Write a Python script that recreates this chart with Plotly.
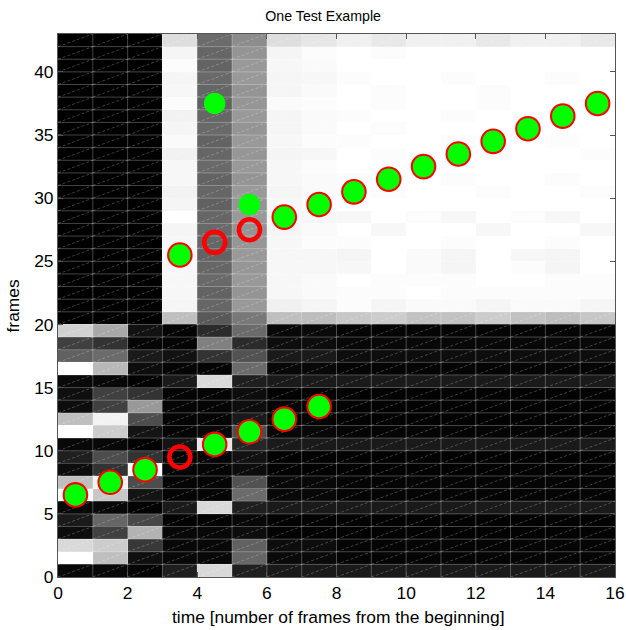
import plotly.graph_objects as go

title = "One Test Example"
x_label = "time [number of frames from the beginning]"
y_label = "frames"
x_ticks = [0, 2, 4, 6, 8, 10, 12, 14, 16]
y_ticks = [0, 5, 10, 15, 20, 25, 30, 35, 40]

# Image intensity in percent, one row per frame, bottom row first; 16 columns.
low_rows = [
    [3, 3, 2, 12, 85, 12, 10, 10, 10, 10, 10, 10, 10, 10, 10, 10],
    [100, 75, 6, 3, 3, 40, 4, 4, 2, 2, 2, 2, 2, 2, 2, 2],
    [85, 80, 22, 3, 3, 38, 5, 5, 2, 2, 2, 2, 2, 2, 2, 2],
    [5, 25, 70, 3, 3, 5, 1, 1, 1, 1, 1, 1, 1, 1, 1, 1],
    [10, 40, 28, 1, 1, 3, 1, 1, 1, 1, 1, 1, 1, 1, 1, 1],
    [3, 3, 1, 10, 85, 12, 10, 10, 10, 10, 10, 10, 10, 10, 10, 10],
    [100, 78, 8, 2, 2, 42, 3, 3, 2, 2, 2, 2, 2, 2, 2, 2],
    [75, 95, 30, 2, 2, 32, 3, 3, 2, 2, 2, 2, 2, 2, 2, 2],
    [5, 20, 100, 2, 2, 5, 1, 1, 1, 1, 1, 1, 1, 1, 1, 1],
    [12, 30, 20, 2, 2, 7, 1, 1, 1, 1, 1, 1, 1, 1, 1, 1],
    [3, 3, 1, 8, 90, 15, 10, 10, 10, 10, 10, 10, 10, 10, 10, 10],
    [100, 80, 8, 2, 3, 30, 3, 3, 2, 2, 2, 2, 2, 2, 2, 2],
    [75, 95, 30, 2, 2, 10, 1, 1, 1, 1, 1, 1, 1, 1, 1, 1],
    [5, 25, 60, 2, 2, 5, 1, 1, 1, 1, 1, 1, 1, 1, 1, 1],
    [6, 25, 20, 2, 2, 5, 1, 1, 1, 1, 1, 1, 1, 1, 1, 1],
    [4, 3, 1, 10, 85, 12, 10, 10, 10, 10, 10, 10, 10, 10, 10, 10],
    [100, 72, 5, 2, 2, 42, 3, 3, 2, 2, 2, 2, 2, 2, 2, 2],
    [38, 42, 10, 7, 20, 32, 10, 10, 5, 5, 5, 5, 5, 5, 5, 5],
    [25, 20, 2, 2, 50, 17, 5, 5, 3, 3, 3, 3, 3, 3, 3, 3],
    [82, 66, 7, 2, 17, 42, 3, 4, 2, 2, 2, 2, 2, 2, 2, 2],
]
high_rows = [
    [0, 0, 0, 75, 35, 47, 75, 74, 78, 80, 76, 76, 80, 76, 74, 78],
    [0, 0, 0, 96, 40, 60, 94, 96, 99, 96, 98, 98, 96, 98, 98, 96],
    [0, 0, 0, 97, 39, 58, 97, 98, 99, 99, 100, 99, 99, 99, 99, 99],
    [0, 0, 0, 97, 41, 60, 97, 98, 100, 99, 99, 99, 100, 100, 99, 99],
    [0, 0, 0, 97, 40, 59, 97, 97, 97, 100, 98, 96, 100, 99, 96, 100],
    [0, 0, 0, 97, 39, 60, 97, 97, 96, 100, 98, 96, 100, 97, 96, 100],
    [0, 0, 0, 97, 40, 59, 97, 99, 99, 100, 100, 99, 100, 100, 99, 100],
    [0, 0, 0, 96, 41, 58, 96, 98, 100, 97, 100, 100, 97, 100, 100, 97],
    [0, 0, 0, 100, 40, 60, 97, 97, 97, 100, 99, 97, 100, 99, 97, 100],
    [0, 0, 0, 96, 38, 58, 97, 99, 100, 100, 100, 100, 100, 100, 100, 100],
    [0, 0, 0, 95, 40, 60, 96, 98, 100, 99, 100, 100, 99, 100, 100, 99],
    [0, 0, 0, 97, 39, 58, 97, 98, 99, 100, 100, 99, 100, 100, 99, 100],
    [0, 0, 0, 97, 41, 60, 97, 99, 100, 100, 100, 100, 100, 100, 100, 100],
    [0, 0, 0, 95, 40, 59, 96, 97, 100, 99, 100, 100, 99, 100, 100, 99],
    [0, 0, 0, 98, 39, 60, 97, 99, 99, 100, 100, 99, 100, 100, 99, 100],
    [0, 0, 0, 96, 41, 58, 96, 98, 100, 99, 100, 100, 100, 100, 100, 100],
    [0, 0, 0, 95, 40, 60, 96, 98, 99, 100, 100, 99, 100, 100, 100, 100],
    [0, 0, 0, 99, 38, 59, 98, 99, 100, 99, 100, 100, 99, 100, 100, 99],
    [0, 0, 0, 97, 40, 58, 96, 98, 100, 99, 100, 100, 99, 100, 100, 100],
    [0, 0, 0, 96, 41, 60, 96, 97, 99, 100, 100, 99, 100, 100, 99, 100],
    [0, 0, 0, 99, 39, 60, 97, 98, 100, 100, 100, 100, 100, 100, 100, 100],
    [0, 0, 0, 96, 40, 58, 96, 99, 100, 99, 100, 100, 100, 100, 100, 100],
    [0, 0, 0, 87, 42, 55, 87, 90, 94, 91, 94, 94, 91, 94, 94, 91],
]
intensity = low_rows + high_rows

ring_x = [0.5, 1.5, 2.5, 3.5, 4.5, 5.5, 6.5, 7.5,
          3.5, 4.5, 5.5, 6.5, 7.5, 8.5, 9.5, 10.5, 11.5, 12.5, 13.5, 14.5, 15.5]
ring_y = [6.5, 7.5, 8.5, 9.5, 10.5, 11.5, 12.5, 13.5,
          25.5, 26.5, 27.5, 28.5, 29.5, 30.5, 31.5, 32.5, 33.5, 34.5, 35.5, 36.5, 37.5]
dot_x = [0.5, 1.5, 2.5, 4.5, 5.5, 6.5, 7.5,
         3.5, 4.5, 5.5, 6.5, 7.5, 8.5, 9.5, 10.5, 11.5, 12.5, 13.5, 14.5, 15.5]
dot_y = [6.5, 7.5, 8.5, 10.5, 11.5, 12.5, 13.5,
         25.5, 37.5, 29.5, 28.5, 29.5, 30.5, 31.5, 32.5, 33.5, 34.5, 35.5, 36.5, 37.5]

n_rows = len(intensity)
n_cols = len(intensity[0])

fig = go.Figure()
fig.add_trace(go.Heatmap(
    z=intensity,
    x=[c + 0.5 for c in range(n_cols)],
    y=[r + 0.5 for r in range(n_rows)],
    zmin=0, zmax=100, zsmooth=False,
    colorscale=[[0, "#000000"], [1, "#ffffff"]],
    showscale=False, hoverinfo="skip",
))

# Mesh seams of the rendered image: cell edges and each cell's diagonal.
edge_x, edge_y = [], []
for r in range(1, n_rows):
    edge_x += [0, n_cols, None]
    edge_y += [r, r, None]
for c in range(1, n_cols):
    edge_x += [c, c, None]
    edge_y += [0, n_rows, None]
fig.add_trace(go.Scatter(x=edge_x, y=edge_y, mode="lines", hoverinfo="skip",
                         line=dict(color="rgba(255,255,255,0.27)", width=1)))
diag_x, diag_y = [], []
for r in range(n_rows):
    for c in range(n_cols):
        diag_x += [c, c + 1, None]
        diag_y += [r, r + 1, None]
fig.add_trace(go.Scatter(x=diag_x, y=diag_y, mode="lines", hoverinfo="skip",
                         line=dict(color="rgba(255,255,255,0.4)", width=0.6, dash="3px,2px")))

fig.add_trace(go.Scatter(x=ring_x, y=ring_y, mode="markers", hoverinfo="skip",
                         marker=dict(size=21, color="rgba(0,0,0,0)",
                                     line=dict(color="#ff0000", width=4.6))))
fig.add_trace(go.Scatter(x=dot_x, y=dot_y, mode="markers", hoverinfo="skip",
                         marker=dict(size=21.5, color="#00ff00", line=dict(width=0))))

axis_common = dict(ticks="inside", ticklen=5, tickwidth=1, tickcolor="#555555",
                   showgrid=False, zeroline=False, showline=True, linecolor="#555555",
                   linewidth=1, mirror="ticks", automargin=False,
                   tickfont=dict(family="Liberation Sans", size=17.4, color="#000000"))
label_font = dict(family="Liberation Sans", size=17.4, color="#000000")
fig.update_layout(
    width=626, height=630,
    autosize=False,
    margin=dict(l=58, r=11, t=34, b=53),
    paper_bgcolor="white", plot_bgcolor="white",
    showlegend=False,
    title=dict(text=title, x=0.476, xref="paper", xanchor="center", y=0.974, yanchor="middle",
               font=dict(family="Liberation Sans", size=14.2, color="#000000")),
    xaxis=dict(range=[0, 16], tickvals=x_ticks, **axis_common),
    yaxis=dict(range=[0, 43], tickvals=y_ticks, **axis_common),
    annotations=[
        dict(text=x_label, xref="paper", yref="paper", x=0.5036, y=-0.0737, showarrow=False,
             xanchor="center", yanchor="middle", font=label_font),
        dict(text=y_label, xref="paper", yref="paper", x=-0.0808, y=0.5, showarrow=False,
             xanchor="center", yanchor="middle", textangle=-90, font=label_font),
    ],
)
fig.write_html("out.html", config=dict(displayModeBar=False),
               post_script="document.body.style.margin='0';document.documentElement.style.overflow='hidden';")
